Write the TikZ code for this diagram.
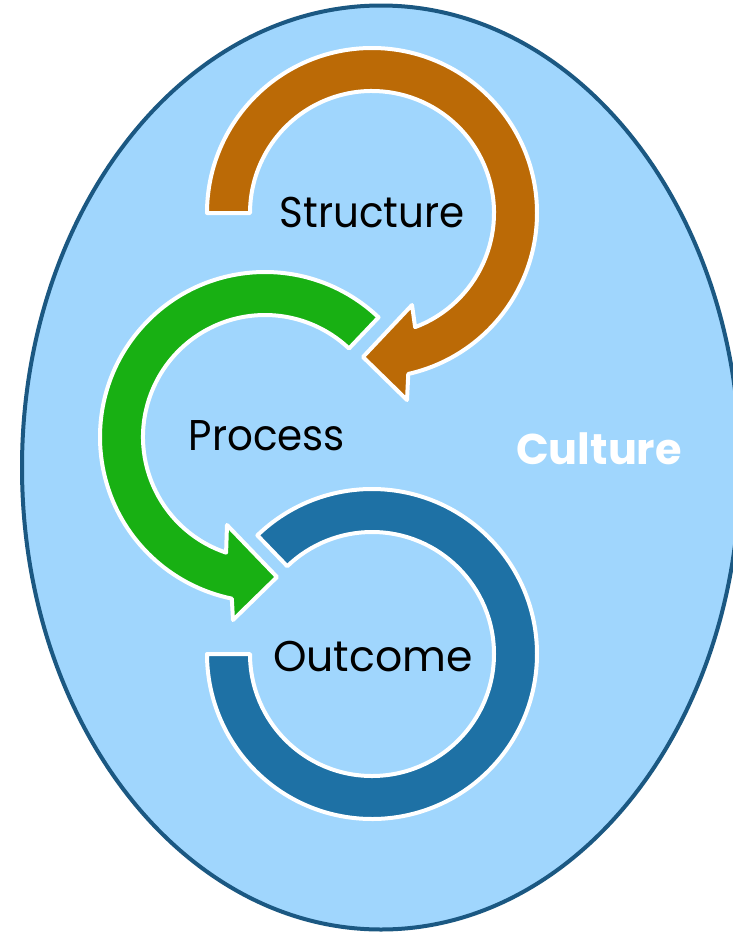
\documentclass[tikz,border=0pt]{standalone}
\usepackage{fontspec}
\setmainfont{Poppins}
\definecolor{bgblue}{RGB}{160,214,253}
\definecolor{rimblue}{RGB}{27,88,130}
\definecolor{orangeA}{RGB}{187,106,6}
\definecolor{greenA}{RGB}{24,176,19}
\definecolor{blueA}{RGB}{30,113,165}
\begin{document}
\begin{tikzpicture}[x=1pt,y=1pt,
  band/.style={draw=white, line width=4pt, line join=round},
  txt/.style={font=\fontsize{43}{43}\selectfont, text=black, inner sep=0pt, anchor=base}]
\useasboundingbox (0,0) rectangle (733,-935);
\fill[white] (0,0) rectangle (733,-935);
\clip (0,0) rectangle (733,-935);
\draw[fill=bgblue, draw=rimblue, line width=4pt] (381,-467.5) ellipse[x radius=359, y radius=462];
\coordinate (O1) at (372,-213);
\coordinate (O2) at (265,-437);
\coordinate (O3) at (372,-654);
% Structure arrow
\draw[band, fill=orangeA] ([shift={(180:165)}]O1) arc[start angle=180, end angle=-77.3, radius=165]
  -- (407,-400) -- (363,-357) -- (412,-305)
  -- ([shift={(-69.3:122)}]O1) arc[start angle=-69.3, end angle=180, radius=122] -- cycle;
% Process arrow
\draw[band, fill=greenA] ([shift={(46.5:165)}]O2) arc[start angle=46.5, end angle=258.4, radius=165]
  -- (233,-620) -- (277,-577) -- (227,-525)
  -- ([shift={(251.4:122)}]O2) arc[start angle=251.4, end angle=46.5, radius=122] -- cycle;
% Outcome ring
\draw[band, fill=blueA] ([shift={(134:165)}]O3) arc[start angle=134, end angle=-180, radius=165]
  -- ([shift={(180:122)}]O3) arc[start angle=-180, end angle=134, radius=122] -- cycle;
\node[txt, xscale=0.94] (s) at (372,-227) {Structure};
\node[txt, xscale=0.94] (p) at (267,-450) {Process};
\node[txt, xscale=0.99] (o) at (373,-671) {Outcome};
\node[txt, font=\fontsize{43}{43}\selectfont\bfseries, text=white] (c) at (599,-464) {Culture};
\end{tikzpicture}
\end{document}
